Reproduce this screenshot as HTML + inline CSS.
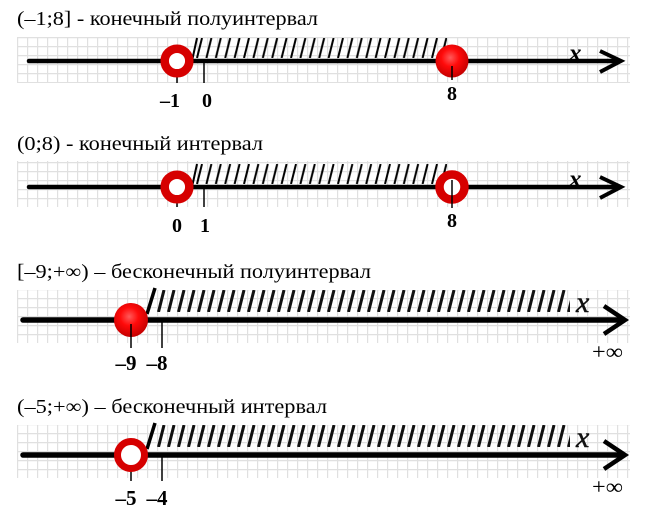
<!DOCTYPE html>
<html><head><meta charset="utf-8">
<style>
html,body{margin:0;padding:0;background:#fff;}
svg{display:block;}
</style></head>
<body>
<svg width="645" height="515" viewBox="0 0 645 515" xmlns="http://www.w3.org/2000/svg">
<defs>
  <pattern id="gridA" patternUnits="userSpaceOnUse" x="17" y="37" width="10" height="9">
    <path d="M0.5 0 V9 M0 0.5 H10" stroke="#e0e0e0" stroke-width="1.4" fill="none"/>
  </pattern>
  <pattern id="hatch1" patternUnits="userSpaceOnUse" x="196" y="38" width="9.4" height="20">
    <line x1="1" y1="20" x2="6" y2="0" stroke="#000" stroke-width="2"/>
  </pattern>
  <pattern id="hatch2" patternUnits="userSpaceOnUse" x="196" y="164" width="9.4" height="20">
    <line x1="1" y1="20" x2="6" y2="0" stroke="#000" stroke-width="2"/>
  </pattern>
  <pattern id="hatch3" patternUnits="userSpaceOnUse" x="157" y="290" width="10" height="22">
    <line x1="1.5" y1="22" x2="7" y2="0" stroke="#111" stroke-width="3"/>
  </pattern>
  <pattern id="hatch4" patternUnits="userSpaceOnUse" x="157" y="425" width="10" height="22">
    <line x1="1.5" y1="22" x2="7" y2="0" stroke="#111" stroke-width="3"/>
  </pattern>
  <radialGradient id="red" cx="45%" cy="40%" r="60%">
    <stop offset="0%" stop-color="#ff5a5a"/>
    <stop offset="45%" stop-color="#ff0a0a"/>
    <stop offset="100%" stop-color="#c40000"/>
  </radialGradient>
</defs>

<!-- grids -->
<rect x="17" y="37" width="613" height="46" fill="url(#gridA)"/>
<rect x="17" y="162" width="613" height="46" fill="url(#gridA)" transform="translate(0,-1)"/>
<rect x="17" y="290" width="613" height="53" fill="url(#gridA)"/>
<rect x="17" y="425" width="613" height="53" fill="url(#gridA)"/>

<g font-family="'Liberation Serif', serif" fill="#000">
  <!-- Panel 1 -->
  <text x="17" y="25" font-size="20" textLength="301" lengthAdjust="spacingAndGlyphs">(–1;8] - конечный полуинтервал</text>
  <rect x="196" y="38" width="251" height="20" fill="url(#hatch1)"/>
  <line x1="192" y1="61" x2="197" y2="38" stroke="#000" stroke-width="2"/>
  <line x1="29" y1="61" x2="618" y2="61" stroke="#000" stroke-width="4.5" stroke-linecap="round"/>
  <polyline points="600,51 621,61 600,72" fill="none" stroke="#000" stroke-width="4" stroke-linejoin="miter"/>
  <text x="569" y="61" font-size="25" font-style="italic" font-weight="bold">x</text>
  <line x1="177" y1="61" x2="177" y2="83" stroke="#000" stroke-width="1.5"/>
  <line x1="204" y1="61" x2="204" y2="83" stroke="#000" stroke-width="1.5"/>
  <circle cx="177" cy="61" r="12.3" fill="#fff" stroke="#d60000" stroke-width="8.5"/>
  <circle cx="452" cy="61" r="16.5" fill="url(#red)"/>
  <line x1="452" y1="66" x2="452" y2="80" stroke="#000" stroke-width="1.5"/>
  <text x="170" y="107" font-size="20" font-weight="bold" text-anchor="middle">–1</text>
  <text x="207" y="107" font-size="20" font-weight="bold" text-anchor="middle">0</text>
  <text x="452" y="100" font-size="20" font-weight="bold" text-anchor="middle">8</text>

  <!-- Panel 2 -->
  <text x="17" y="150" font-size="20" textLength="246" lengthAdjust="spacingAndGlyphs">(0;8) - конечный интервал</text>
  <rect x="196" y="164" width="251" height="20" fill="url(#hatch2)"/>
  <line x1="192" y1="187" x2="197" y2="164" stroke="#000" stroke-width="2"/>
  <line x1="29" y1="187" x2="618" y2="187" stroke="#000" stroke-width="4.5" stroke-linecap="round"/>
  <polyline points="600,177 621,187 600,198" fill="none" stroke="#000" stroke-width="4"/>
  <text x="569" y="187" font-size="25" font-style="italic" font-weight="bold">x</text>
  <line x1="177" y1="187" x2="177" y2="207" stroke="#000" stroke-width="1.5"/>
  <line x1="204" y1="187" x2="204" y2="207" stroke="#000" stroke-width="1.5"/>
  <circle cx="177" cy="187" r="12.3" fill="#fff" stroke="#d60000" stroke-width="8.5"/>
  <circle cx="452" cy="187" r="12.5" fill="#fff" stroke="#d60000" stroke-width="8.5"/>
  <line x1="452" y1="180" x2="452" y2="208" stroke="#000" stroke-width="1.5"/>
  <text x="177" y="232" font-size="20" font-weight="bold" text-anchor="middle">0</text>
  <text x="205" y="232" font-size="20" font-weight="bold" text-anchor="middle">1</text>
  <text x="452" y="227" font-size="20" font-weight="bold" text-anchor="middle">8</text>

  <!-- Panel 3 -->
  <text x="17" y="278" font-size="20" textLength="354" lengthAdjust="spacingAndGlyphs">[–9;+∞) – бесконечный полуинтервал</text>
  <rect x="157" y="290" width="413" height="22" fill="url(#hatch3)"/>
  <line x1="147" y1="314" x2="155" y2="288" stroke="#000" stroke-width="3.5"/>
  <line x1="23" y1="320" x2="620" y2="320" stroke="#000" stroke-width="5.5" stroke-linecap="round"/>
  <polyline points="604,306 625,320 604,334" fill="none" stroke="#000" stroke-width="4.5"/>
  <text x="576" y="312" font-size="30" font-style="italic" fill="#111" stroke="#111" stroke-width="0.5">x</text>
  <text x="592" y="359" font-size="22" textLength="31" lengthAdjust="spacingAndGlyphs">+∞</text>
  <line x1="162" y1="320" x2="162" y2="348" stroke="#000" stroke-width="1.5"/>
  <circle cx="131" cy="320" r="17" fill="url(#red)"/>
  <line x1="131" y1="324" x2="131" y2="348" stroke="#000" stroke-width="1.5"/>
  <text x="126" y="370" font-size="21" font-weight="bold" text-anchor="middle">–9</text>
  <text x="157" y="370" font-size="21" font-weight="bold" text-anchor="middle">–8</text>

  <!-- Panel 4 -->
  <text x="17" y="413" font-size="20" textLength="310" lengthAdjust="spacingAndGlyphs">(–5;+∞) – бесконечный интервал</text>
  <rect x="157" y="425" width="413" height="22" fill="url(#hatch4)"/>
  <line x1="147" y1="449" x2="155" y2="423" stroke="#000" stroke-width="3.5"/>
  <line x1="23" y1="455" x2="620" y2="455" stroke="#000" stroke-width="5.5" stroke-linecap="round"/>
  <polyline points="604,441 625,455 604,469" fill="none" stroke="#000" stroke-width="4.5"/>
  <text x="576" y="447" font-size="30" font-style="italic" fill="#111" stroke="#111" stroke-width="0.5">x</text>
  <text x="592" y="494" font-size="22" textLength="31" lengthAdjust="spacingAndGlyphs">+∞</text>
  <line x1="162" y1="455" x2="162" y2="481" stroke="#000" stroke-width="1.5"/>
  <line x1="131" y1="455" x2="131" y2="481" stroke="#000" stroke-width="1.5"/>
  <circle cx="131" cy="455" r="13.5" fill="#fff" stroke="#d60000" stroke-width="7"/>
  <text x="126" y="505" font-size="21" font-weight="bold" text-anchor="middle">–5</text>
  <text x="157" y="505" font-size="21" font-weight="bold" text-anchor="middle">–4</text>
</g>
</svg>
</body></html>
